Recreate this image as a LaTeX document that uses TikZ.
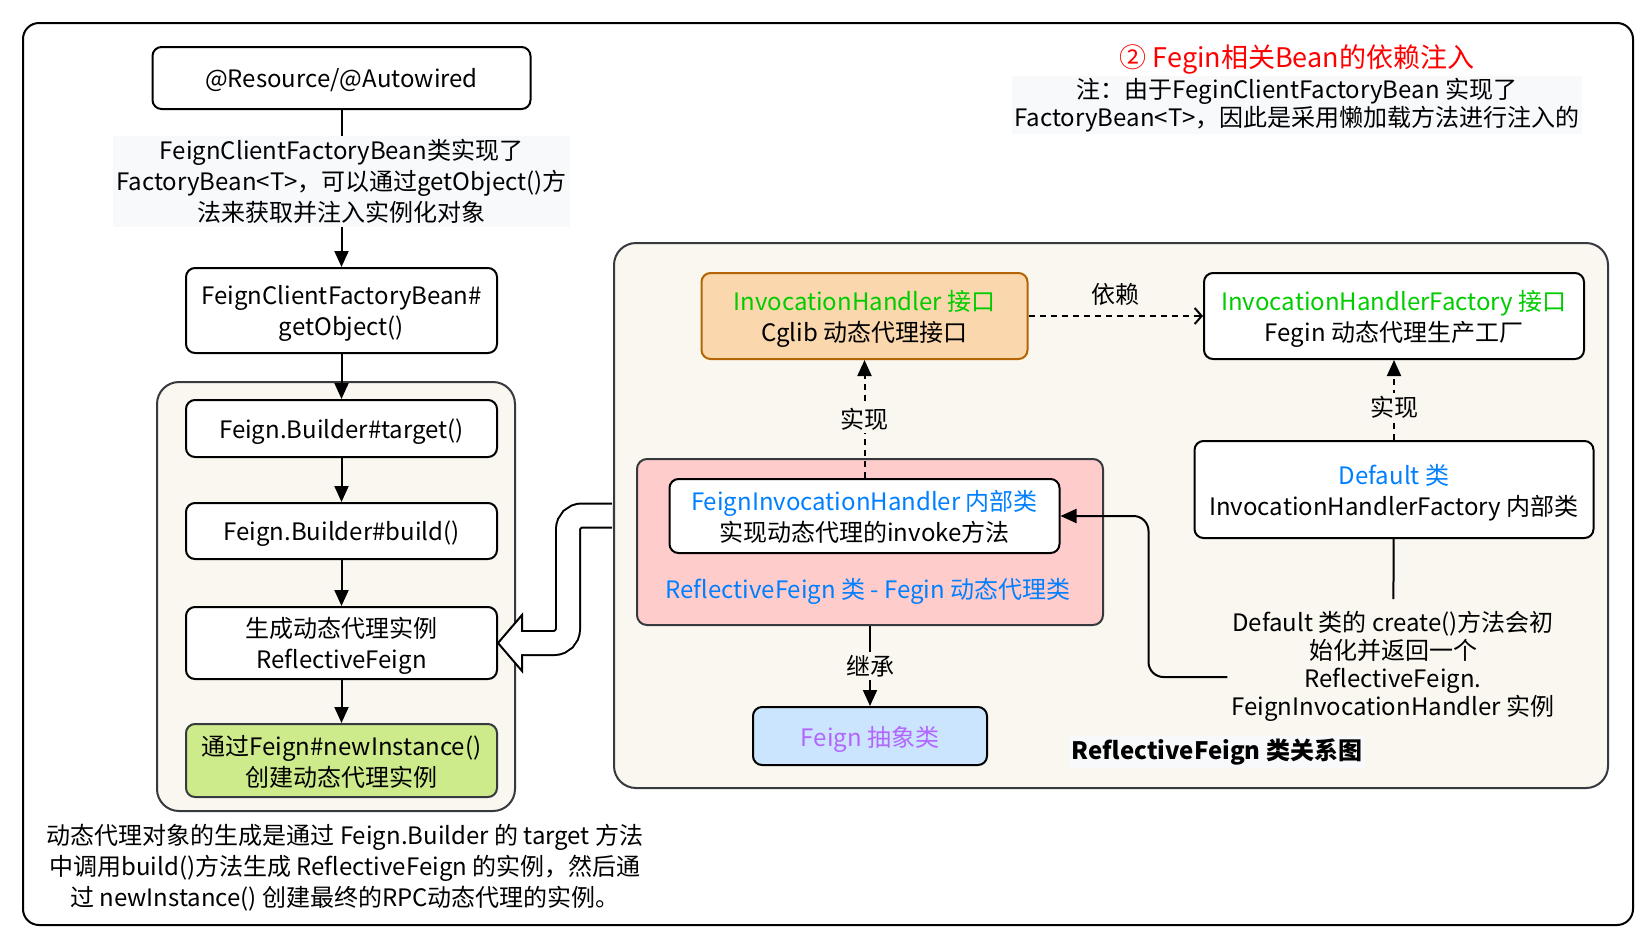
\documentclass[tikz,border=0pt]{standalone}
\usepackage{fontspec}
\setmainfont{Noto Sans CJK SC}
\usetikzlibrary{arrows.meta, calc, positioning}
\definecolor{frameGray}{HTML}{36393D}
\definecolor{paper}{HTML}{F9F7EF}
\definecolor{tagBg}{HTML}{F8F9FB}
\definecolor{pinkFill}{HTML}{FFCCCC}
\definecolor{orangeFill}{HTML}{FAD7AC}
\definecolor{orangeLine}{HTML}{B46504}
\definecolor{blueFill}{HTML}{CCE5FF}
\definecolor{greenFill}{HTML}{CDEB8B}
\definecolor{ifGreen}{HTML}{00CC00}
\definecolor{clsBlue}{HTML}{007FFF}
\definecolor{absPurple}{HTML}{B266FF}
\tikzset{
    txt/.style={font=\fontsize{24}{31}\selectfont, align=center, inner sep=0pt},
    wh/.style 2 args={minimum width=#1pt, minimum height=#2pt},
    box/.style={txt, rectangle, rounded corners=9pt, draw, line width=2pt, fill=white, text depth=-3pt},
    panel/.style={rectangle, rounded corners=22pt, draw=frameGray, line width=2pt, fill=paper},
    flowEdge/.style={-{Triangle[length=16pt, width=14pt]}, line width=2pt},
    implEdge/.style={flowEdge, dash pattern=on 6pt off 5pt},
    depEdge/.style={-{Straight Barb[length=7pt, width=16pt]}, line width=2pt, dash pattern=on 6pt off 5pt},
    edgeTag/.style={txt, fill=paper, inner sep=3pt},
}
\newcommand{\drawLink}[4][flowEdge]{
    \draw[#1] (#2) -- node[edgeTag] {#4} (#3);
}
\newcommand{\chanFlow}[2]{\draw[flowEdge] (#1) -- (#2);}

\begin{document}
\begin{tikzpicture}[x=1pt, y=-1pt]
    \useasboundingbox (0,0) rectangle (1640,930);
    \node[rectangle, rounded corners=16pt, draw, line width=2pt, fill=white, wh={1610}{902}] (frame) at (828,474) {};

    % left: how the proxy is built
    \node[box, wh={378}{62}] (res) at (341.5,78) {@Resource/@Autowired};
    \node[box, wh={311}{85}] (fcfb) at (341.5,310.5) {FeignClientFactoryBean\#\\getObject()};
    \draw[flowEdge] (res) -- node[edgeTag, fill=tagBg, pos=0.455] {FeignClientFactoryBean类实现了\\FactoryBean<T>，可以通过getObject()方\\法来获取并注入实例化对象} (fcfb);
    \node[panel, wh={358}{429}] (lpanel) at (336,596.5) {};
    \node[box, wh={311}{57}] (target) at (341.5,428.5) {Feign.Builder\#target()};
    \node[box, wh={311}{56}] (build) at (341.5,531) {Feign.Builder\#build()};
    \node[box, wh={311}{72}] (gen) at (341.5,643) {生成动态代理实例\\ReflectiveFeign};
    \node[box, draw=frameGray, fill=greenFill, wh={311}{73}] (newi) at (341.5,760.5) {通过Feign\#newInstance()\\创建动态代理实例};
    \chanFlow{fcfb}{target}
    \chanFlow{target}{build}
    \chanFlow{build}{gen}
    \chanFlow{gen}{newi}
    \node[txt] (caption) at (345,868) {动态代理对象的生成是通过 Feign.Builder 的 target 方法\\中调用build()方法生成 ReflectiveFeign 的实例，然后通\\过 newInstance() 创建最终的RPC动态代理的实例。};

    % right: class diagram
    \node[panel, wh={994}{545}] (rpanel) at (1111,515.5) {};
    \coordinate (hbase) at ($(gen.east)+(24,0)$);
    \coordinate (hbend) at ($(gen.east)+(70,0)$);
    \coordinate (hstart) at ($(rpanel.west)+(-1,0)$);
    \draw[line width=2pt, fill=white, line join=miter] ($(hbase)+(0,-28)$) -- (gen.east) -- ($(hbase)+(0,28)$) -- cycle;
    \draw[line width=26pt, rounded corners=14pt] (hstart) -| (hbend) -- (hbase);
    \draw[line width=22pt, white, rounded corners=14pt] (hstart) -| (hbend) -- ($(hbase)+(-2,0)$);

    \node[box, fill=orangeFill, draw=orangeLine, wh={326}{86}] (ih) at (864.5,316) {\textcolor{ifGreen}{InvocationHandler 接口}\\Cglib 动态代理接口};
    \node[box, wh={380}{86}] (ihf) at (1394,316) {\textcolor{ifGreen}{InvocationHandlerFactory 接口}\\Fegin 动态代理生产工厂};
    \node[panel, rounded corners=10pt, fill=pinkFill, wh={466}{166}] (rf) at (870,542) {};
    \node[box, wh={390}{74}] (fih) at (864.5,516) {\textcolor{clsBlue}{FeignInvocationHandler 内部类}\\实现动态代理的invoke方法};
    \node[txt, text=clsBlue] (rfTag) at (868,591) {ReflectiveFeign 类 - Fegin 动态代理类};
    \node[box, fill=blueFill, text=absPurple, wh={234}{58}] (feign) at (870,736) {Feign 抽象类};
    \node[box, wh={399}{97}] (dflt) at (1394,489.5) {\textcolor{clsBlue}{Default 类}\\InvocationHandlerFactory 内部类};
    \node[txt, font=\fontsize{24}{28}\selectfont, inner ysep=12pt, inner xsep=4pt] (note) at (1393,666.5) {Default 类的 create()方法会初\\始化并返回一个\\ReflectiveFeign.\\FeignInvocationHandler 实例};
    \node[txt, font=\bfseries\fontsize{24}{31}\selectfont, fill=tagBg, inner sep=3pt] (chartTag) at (1217,752) {ReflectiveFeign 类关系图};

    \drawLink[implEdge]{fih}{ih}{实现}
    \draw[implEdge] (dflt) -- node[edgeTag, pos=0.41] {实现} (ihf);
    \draw[depEdge] (ih) -- node[txt, above=10pt] {依赖} (ihf);
    \drawLink{rf}{feign}{继承}
    \draw[line width=2pt] (dflt) -- (note);
    \draw[flowEdge, rounded corners=15pt] ($(note.west)+(0,10.5)$) -| ($(fih.east)+(88,0)$) -- (fih.east);

    % title and remark
    \node[txt, text=red, font=\fontsize{27}{32}\selectfont] (title) at (1297,59) {② Fegin相关Bean的依赖注入};
    \node[txt, font=\fontsize{24}{28}\selectfont, fill=tagBg, inner sep=2pt] (topNote) at (1297,105) {注：由于FeginClientFactoryBean 实现了\\FactoryBean<T>，因此是采用懒加载方法进行注入的};
\end{tikzpicture}
\end{document}
